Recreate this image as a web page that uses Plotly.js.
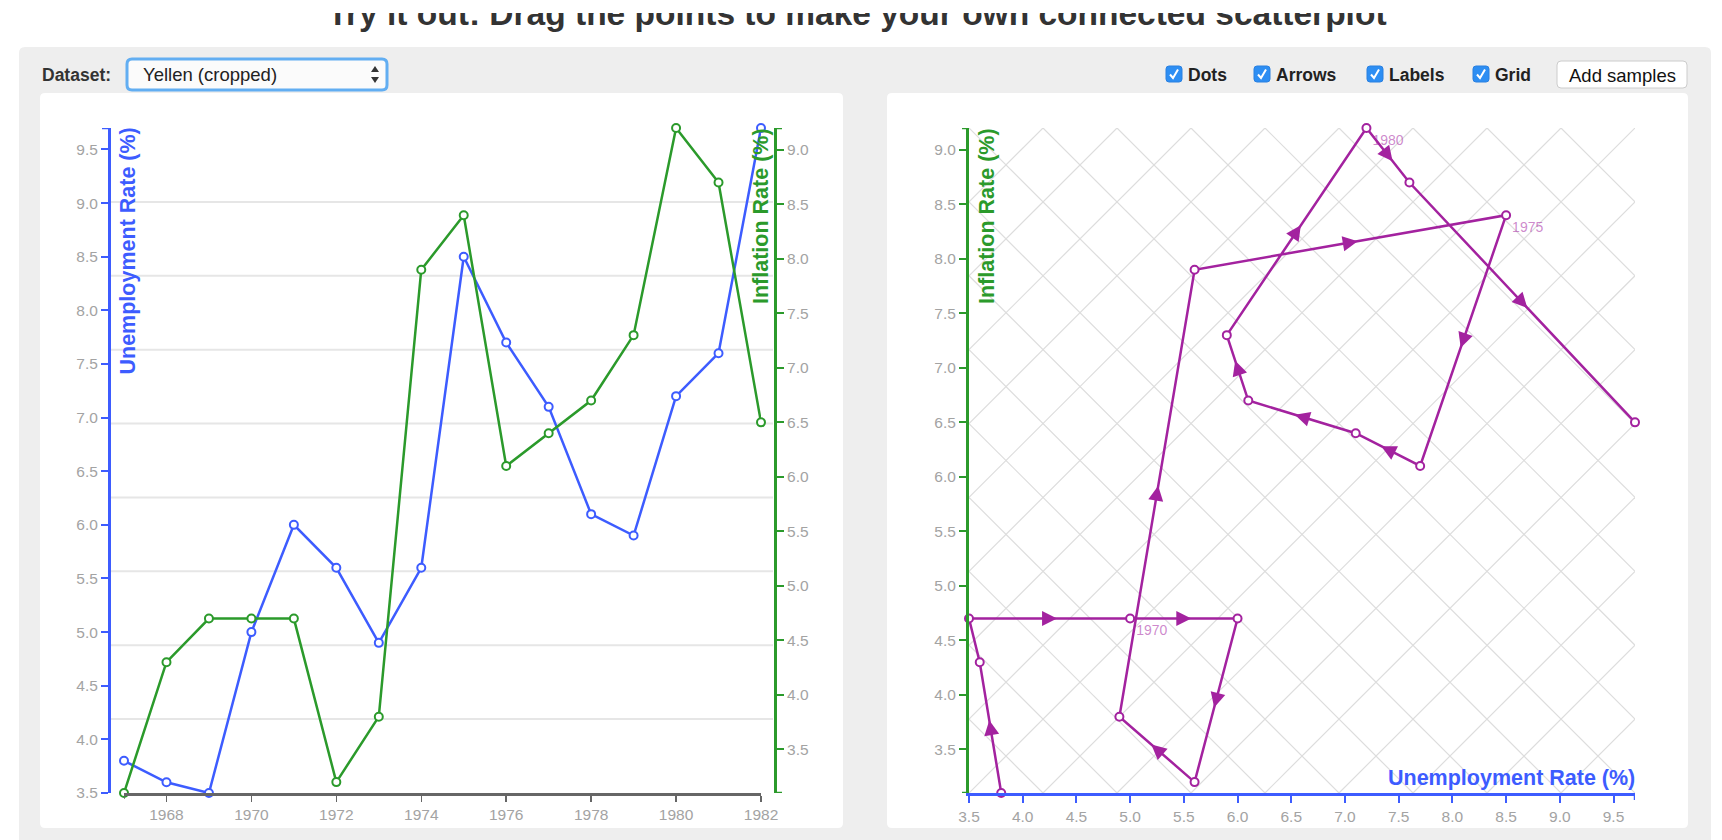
<!DOCTYPE html>
<html>
<head>
<meta charset="utf-8">
<script src="https://cdn.plot.ly/plotly-3.0.1.min.js"></script>
<style>
html,body{margin:0;padding:0;background:#fff;overflow:hidden}
#chart{width:1722px;height:840px}
</style>
</head>
<body>
<div id="chart"></div>
<script>
// ---------------- DATA ----------------
const years = [1967,1968,1969,1970,1971,1972,1973,1974,1975,1976,1977,1978,1979,1980,1981,1982];
const unemployment = [3.8,3.6,3.5,5.0,6.0,5.6,4.9,5.6,8.5,7.7,7.1,6.1,5.9,7.2,7.6,9.7];
const inflation = [3.1,4.3,4.7,4.7,4.7,3.2,3.8,7.9,8.4,6.1,6.4,6.7,7.3,9.2,8.7,6.5];
const yearTicks = [1968,1970,1972,1974,1976,1978,1980,1982];
const unemploymentTicks = [3.5,4.0,4.5,5.0,5.5,6.0,6.5,7.0,7.5,8.0,8.5,9.0,9.5];
const inflationTicks = [3.5,4.0,4.5,5.0,5.5,6.0,6.5,7.0,7.5,8.0,8.5,9.0];
const pageTitle = 'Try it out: Drag the points to make your own connected scatterplot';
const datasetLabel = 'Dataset:';
const datasetName = 'Yellen (cropped)';
const toggleLabels = ['Dots','Arrows','Labels','Grid'];
const buttonLabel = 'Add samples';
const unemploymentTitle = 'Unemployment Rate (%)';
const inflationTitle = 'Inflation Rate (%)';

// ---------------- LAYOUT HELPERS ----------------
const W = 1722, H = 840;
const X = px => px / W;
const Y = py => 1 - py / H;
const FONT = 'Liberation Sans, Arial, Helvetica, sans-serif';
const BLUE = '#3d5cff', GREEN = '#2b9a2b', PURPLE = '#a3229f', TICK = '#a3a3a3';
const plotTop = 128, plotBottom = 793;
const leftAxisX = 109, rightAxisX = 775, yearStartX = 124, yearEndX = 761;
const sx0 = 969, sx1 = 1635;

const uMin = Math.min(...unemployment), uMax = Math.max(...unemployment);
const iMin = Math.min(...inflation), iMax = Math.max(...inflation);

function roundRect(x0, y0, x1, y1, r) {
  const p = (x, y) => X(x) + ',' + Y(y);
  return 'M' + p(x0 + r, y0) + ' L' + p(x1 - r, y0) + ' Q' + p(x1, y0) + ' ' + p(x1, y0 + r) +
    ' L' + p(x1, y1 - r) + ' Q' + p(x1, y1) + ' ' + p(x1 - r, y1) +
    ' L' + p(x0 + r, y1) + ' Q' + p(x0, y1) + ' ' + p(x0, y1 - r) +
    ' L' + p(x0, y0 + r) + ' Q' + p(x0, y0) + ' ' + p(x0 + r, y0) + ' Z';
}
function pathPx(pts, close) {
  return pts.map((q, i) => (i ? 'L' : 'M') + X(q[0]) + ',' + Y(q[1])).join(' ') + (close ? ' Z' : '');
}

const shapes = [];
// page container & panels
shapes.push({type:'path', xref:'paper', yref:'paper', path: roundRect(19, 47, 1711, 860, 6), fillcolor:'#eeeeee', line:{width:0}, layer:'below'});
shapes.push({type:'path', xref:'paper', yref:'paper', path: roundRect(40, 93, 843, 828, 5), fillcolor:'#ffffff', line:{width:0}, layer:'below'});
shapes.push({type:'path', xref:'paper', yref:'paper', path: roundRect(887, 93, 1688, 828, 5), fillcolor:'#ffffff', line:{width:0}, layer:'below'});

// left chart horizontal grid (nine equal bands)
for (let k = 1; k < 9; k++) {
  const v = uMin + (uMax - uMin) * k / 9;
  shapes.push({type:'line', xref:'paper', yref:'y', x0:X(leftAxisX + 2), x1:X(rightAxisX - 2), y0:v, y1:v,
    line:{color:'#e6e6e6', width:2}, layer:'below'});
}
// outer axis end ticks
shapes.push({type:'line', xref:'paper', yref:'y', x0:X(leftAxisX - 7), x1:X(leftAxisX), y0:uMax, y1:uMax, line:{color:BLUE, width:2.5}});
shapes.push({type:'line', xref:'paper', yref:'y2', x0:X(rightAxisX), x1:X(rightAxisX + 7), y0:iMax, y1:iMax, line:{color:GREEN, width:2.5}});
shapes.push({type:'line', xref:'paper', yref:'y2', x0:X(rightAxisX), x1:X(rightAxisX + 7), y0:iMin, y1:iMin, line:{color:GREEN, width:2.5}});
shapes.push({type:'line', xref:'x', yref:'paper', x0:years[0], x1:years[0], y0:Y(plotBottom), y1:Y(plotBottom + 6), line:{color:'#666', width:1.5}});
shapes.push({type:'line', xref:'x3', yref:'paper', x0:uMax, x1:uMax, y0:Y(plotBottom), y1:Y(plotBottom + 7), line:{color:BLUE, width:2.5}});
shapes.push({type:'line', xref:'paper', yref:'y3', x0:X(sx0 - 7), x1:X(sx0), y0:iMax, y1:iMax, line:{color:GREEN, width:2.5}});
shapes.push({type:'line', xref:'paper', yref:'y3', x0:X(sx0 - 7), x1:X(sx0), y0:iMin, y1:iMin, line:{color:GREEN, width:2.5}});

// select box
shapes.push({type:'path', xref:'paper', yref:'paper', path: roundRect(127, 59, 387, 90, 5), fillcolor:'#fbfbfb', line:{color:'#62aef2', width:3}});
shapes.push({type:'path', xref:'paper', yref:'paper', path: pathPx([[371,72],[379,72],[375,66]], true), fillcolor:'#333', line:{width:0}});
shapes.push({type:'path', xref:'paper', yref:'paper', path: pathPx([[371,77],[379,77],[375,83]], true), fillcolor:'#333', line:{width:0}});

const annotations = [];
annotations.push({xref:'paper', yref:'paper', x:X(40), y:Y(74.5), xanchor:'left', yanchor:'middle', showarrow:false,
  text:datasetLabel, font:{family:FONT, size:17.5, color:'#333', weight:'bold'}});
annotations.push({xref:'paper', yref:'paper', x:X(141), y:Y(74.5), xanchor:'left', yanchor:'middle', showarrow:false,
  text:datasetName, font:{family:FONT, size:18.5, color:'#222'}});

// toggles
const toggleX = [1166, 1254, 1367, 1473];
toggleLabels.forEach((lab, i) => {
  const bx = toggleX[i];
  shapes.push({type:'path', xref:'paper', yref:'paper', path: roundRect(bx, 66, bx + 16, 82, 3), fillcolor:'#2d8ef3', line:{color:'#2a80e0', width:1}});
  shapes.push({type:'path', xref:'paper', yref:'paper', path: pathPx([[bx + 4, 74.5],[bx + 7, 78],[bx + 12, 69.5]], false), line:{color:'#ffffff', width:2}});
  annotations.push({xref:'paper', yref:'paper', x:X(bx + 20), y:Y(74.5), xanchor:'left', yanchor:'middle', showarrow:false,
    text:lab, font:{family:FONT, size:17.5, color:'#222', weight:'bold'}});
});
// button
shapes.push({type:'path', xref:'paper', yref:'paper', path: roundRect(1557, 61, 1687, 88, 4), fillcolor:'#ffffff', line:{color:'#cccccc', width:1}});
annotations.push({xref:'paper', yref:'paper', x:X(1622), y:Y(75), xanchor:'center', yanchor:'middle', showarrow:false,
  text:buttonLabel, font:{family:FONT, size:18.5, color:'#111'}});

// axis titles (drawn inside the plots)
const titleFont = c => ({family:FONT, size:21.5, color:c, weight:'bold'});
annotations.push({xref:'paper', yref:'paper', x:X(127), y:Y(plotTop - 2), xanchor:'center', yanchor:'top', textangle:-90, showarrow:false, text:unemploymentTitle, font:titleFont(BLUE)});
annotations.push({xref:'paper', yref:'paper', x:X(761), y:Y(plotTop - 2), xanchor:'center', yanchor:'top', textangle:-90, showarrow:false, text:inflationTitle, font:titleFont(GREEN)});
annotations.push({xref:'paper', yref:'paper', x:X(987), y:Y(plotTop - 2), xanchor:'center', yanchor:'top', textangle:-90, showarrow:false, text:inflationTitle, font:titleFont(GREEN)});
annotations.push({xref:'paper', yref:'paper', x:X(sx1 + 2), y:Y(778), xanchor:'right', yanchor:'middle', showarrow:false, text:unemploymentTitle, font:titleFont(BLUE)});

// ---------------- TRACES ----------------
// diamond grid for the connected scatterplot
const gx = [], gy = [];
const N = 9;
function seg(u0, v0, u1, v1) {
  gx.push(uMin + (uMax - uMin) * u0, uMin + (uMax - uMin) * u1, null);
  gy.push(iMin + (iMax - iMin) * v0, iMin + (iMax - iMin) * v1, null);
}
for (let k = 1; k < 2 * N; k++) { const c = k / N; if (c <= 1) seg(c, 0, 0, c); else seg(1, c - 1, c - 1, 1); }
for (let k = -(N - 1); k <= N - 1; k++) { const c = k / N; if (c >= 0) seg(c, 0, 1, 1 - c); else seg(0, -c, 1 + c, 1); }

// arrows at segment midpoints
const pxPerU = (sx1 - sx0) / (uMax - uMin);
const pxPerI = (plotBottom - plotTop) / (iMax - iMin);
const ARROW = 15, ARROW_MIN = 60;
const ax = [], ay = [], aang = [];
for (let i = 0; i < years.length - 1; i++) {
  const dx = (unemployment[i + 1] - unemployment[i]) * pxPerU;
  const dy = (inflation[i + 1] - inflation[i]) * pxPerI;
  const len = Math.hypot(dx, dy);
  if (len < ARROW_MIN) continue;
  const mu = (unemployment[i] + unemployment[i + 1]) / 2;
  const mi = (inflation[i] + inflation[i + 1]) / 2;
  ax.push(mu + dx / len * (ARROW / 2) / pxPerU);
  ay.push(mi + dy / len * (ARROW / 2) / pxPerI);
  aang.push(Math.atan2(dx, dy) * 180 / Math.PI);
}
const yearLabels = years.map(y => (y % 5 === 0 ? String(y) : ''));

const traces = [
  {type:'scatter', mode:'lines+markers', x:years, y:unemployment, xaxis:'x', yaxis:'y', cliponaxis:false,
    line:{color:BLUE, width:2.5}, marker:{symbol:'circle', size:8, color:'#fff', line:{color:BLUE, width:2}}, hoverinfo:'skip'},
  {type:'scatter', mode:'lines+markers', x:years, y:inflation, xaxis:'x', yaxis:'y2', cliponaxis:false,
    line:{color:GREEN, width:2.5}, marker:{symbol:'circle', size:8, color:'#fff', line:{color:GREEN, width:2}}, hoverinfo:'skip'},
  {type:'scatter', mode:'lines', x:gx, y:gy, xaxis:'x3', yaxis:'y3', line:{color:'#dddddd', width:1.2}, hoverinfo:'skip'},
  {type:'scatter', mode:'lines', x:unemployment, y:inflation, xaxis:'x3', yaxis:'y3', cliponaxis:false,
    line:{color:PURPLE, width:2.5}, hoverinfo:'skip'},
  {type:'scatter', mode:'markers', x:ax, y:ay, xaxis:'x3', yaxis:'y3', cliponaxis:false,
    marker:{symbol:'arrow-up', size:ARROW, color:PURPLE, angle:aang, line:{width:0}}, hoverinfo:'skip'},
  {type:'scatter', mode:'markers+text', x:unemployment, y:inflation, xaxis:'x3', yaxis:'y3', cliponaxis:false,
    text:yearLabels, textposition:'bottom right', textfont:{family:FONT, size:14, color:'rgba(163,34,159,0.55)'},
    marker:{symbol:'circle', size:8, color:'#fff', line:{color:PURPLE, width:2}}, hoverinfo:'skip'},
  {type:'scatter', mode:'text', x:[X(857)], y:[0.88], xaxis:'x4', yaxis:'y4', cliponaxis:true,
    text:[pageTitle], textposition:'middle center', textfont:{family:FONT, size:33.5, color:'#333', weight:'bold'}, hoverinfo:'skip'}
];

const tickFont = {family:FONT, size:15.5, color:TICK};
const layout = {
  width:W, height:H, margin:{l:0, r:0, t:0, b:0},
  paper_bgcolor:'#ffffff', plot_bgcolor:'rgba(0,0,0,0)', showlegend:false,
  font:{family:FONT},
  xaxis:{domain:[X(yearStartX), X(yearEndX)], range:[years[0], years[years.length - 1]], anchor:'y',
    tickvals:yearTicks, tickformat:'d', ticks:'outside', ticklen:6, tickwidth:1.5, tickcolor:'#666',
    showline:true, linecolor:'#666', linewidth:2.5, showgrid:false, zeroline:false, tickfont:tickFont, fixedrange:true},
  yaxis:{domain:[Y(plotBottom), Y(plotTop)], range:[uMin, uMax], anchor:'free', position:X(leftAxisX), side:'left',
    tickvals:unemploymentTicks, tickformat:'.1f', ticks:'outside', ticklen:7, tickwidth:2, tickcolor:BLUE,
    showline:true, linecolor:BLUE, linewidth:3, showgrid:false, zeroline:false, tickfont:tickFont, fixedrange:true},
  yaxis2:{overlaying:'y', range:[iMin, iMax], anchor:'free', position:X(rightAxisX), side:'right',
    tickvals:inflationTicks, tickformat:'.1f', ticks:'outside', ticklen:7, tickwidth:2, tickcolor:GREEN,
    showline:true, linecolor:GREEN, linewidth:3, showgrid:false, zeroline:false, tickfont:tickFont, fixedrange:true},
  xaxis3:{domain:[X(sx0), X(sx1)], range:[uMin, uMax], anchor:'y3',
    tickvals:unemploymentTicks, tickformat:'.1f', ticks:'outside', ticklen:7, tickwidth:2, tickcolor:BLUE,
    showline:true, linecolor:BLUE, linewidth:3, showgrid:false, zeroline:false, tickfont:tickFont, fixedrange:true},
  yaxis3:{domain:[Y(plotBottom), Y(plotTop)], range:[iMin, iMax], anchor:'x3',
    tickvals:inflationTicks, tickformat:'.1f', ticks:'outside', ticklen:7, tickwidth:2, tickcolor:GREEN,
    showline:true, linecolor:GREEN, linewidth:3, showgrid:false, zeroline:false, tickfont:tickFont, fixedrange:true},
  xaxis4:{domain:[0, 1], range:[0, 1], anchor:'y4', visible:false, fixedrange:true},
  yaxis4:{domain:[Y(47), Y(13)], range:[0, 1], anchor:'x4', visible:false, fixedrange:true},
  shapes:shapes,
  annotations:annotations
};

Plotly.newPlot('chart', traces, layout, {displayModeBar:false, staticPlot:true});
</script>
</body>
</html>
